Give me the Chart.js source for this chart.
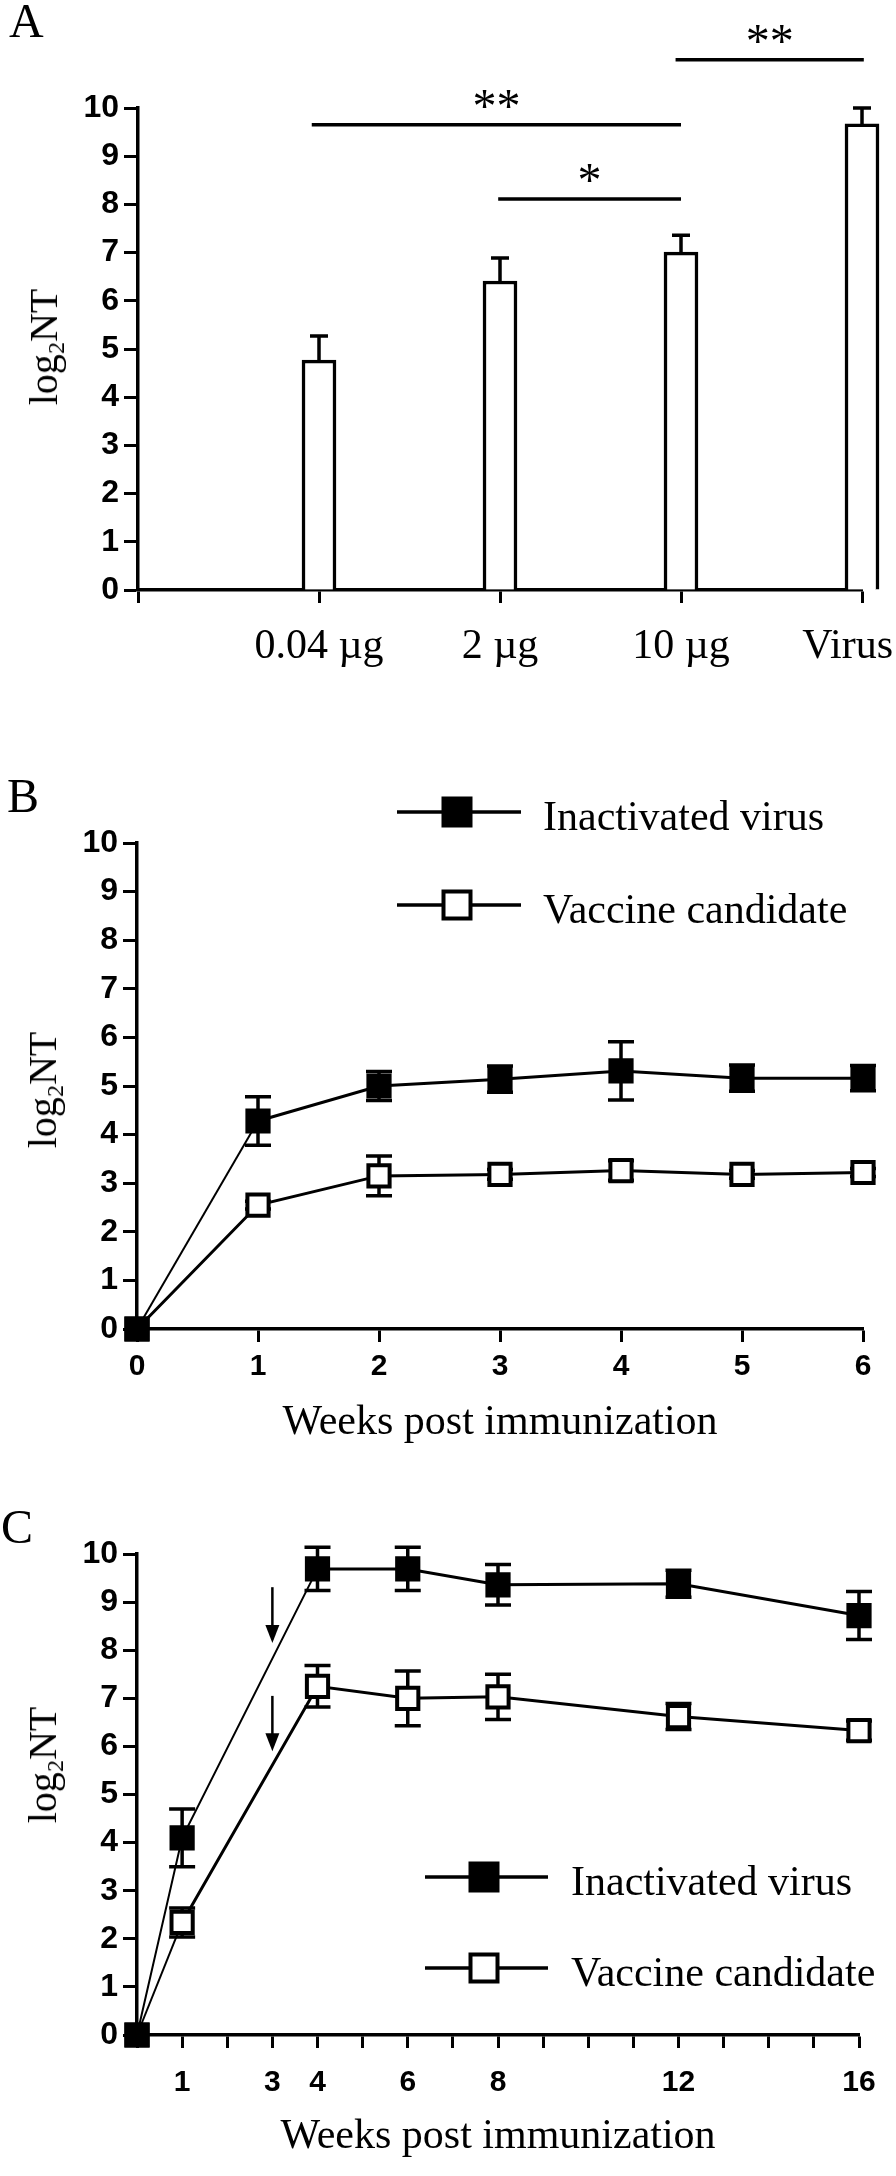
<!DOCTYPE html>
<html>
<head>
<meta charset="utf-8">
<script src="https://cdn.jsdelivr.net/npm/chart.js@4.4.0/dist/chart.umd.min.js"></script>
<style>
  html, body { margin: 0; padding: 0; background: #fff; }
  #page { position: relative; width: 896px; height: 2176px; overflow: hidden; background: #fff; }
  canvas { position: absolute; left: 0; }
  .serif { position: absolute; white-space: nowrap; color: #000;
           font-family: "Liberation Serif", "Times New Roman", serif; }
  .letter { font-size: 48px; line-height: 48px; }
  .ytitle { font-size: 40px; line-height: 40px; transform: translate(-50%, -50%) rotate(-90deg); }
  .ytitle sub { font-size: 60%; vertical-align: -0.3em; line-height: 0; }
</style>
</head>
<body>
<div id="page">
  <canvas id="chartA" width="896" height="700" style="top:0;width:896px;height:700px"></canvas>
  <canvas id="chartB" width="896" height="760" style="top:700px;width:896px;height:760px"></canvas>
  <canvas id="chartC" width="896" height="736" style="top:1440px;width:896px;height:736px"></canvas>

  <div class="serif letter" style="left:9px;top:-3px">A</div>
  <div class="serif letter" style="left:7px;top:772px">B</div>
  <div class="serif letter" style="left:1px;top:1503px">C</div>

  <div class="serif ytitle" style="left:44px;top:347px">log<sub>2</sub>NT</div>
  <div class="serif ytitle" style="left:43px;top:1090px">log<sub>2</sub>NT</div>
  <div class="serif ytitle" style="left:43px;top:1765px">log<sub>2</sub>NT</div>
</div>

<script>
// ---- データ ----
// A: 用量別の中和抗体価
const doseLabels = ['', '0.04 µg', '2 µg', '10 µg', 'Virus'];
const doseNT = [null, 4.77, 6.41, 7.01, 9.67];
const doseErr = [0, 0.5, 0.48, 0.35, 0.33];
// 有意差の線（カテゴリ位置から位置まで、高さ、記号）
const sigFrom = [2.97, 0.96, 1.99];
const sigTo = [4.01, 3.0, 3.0];
const sigLevel = [11.0, 9.65, 8.11];
const sigMark = ['**', '**', '*'];

// B: 1回免疫後の推移
const weeksB = [0, 1, 2, 3, 4, 5, 6];
const inactB = [0, 4.28, 5.0, 5.14, 5.31, 5.16, 5.16];
const inactBErr = [0, 0.5, 0.3, 0.27, 0.6, 0.27, 0.26];
const vaccB = [0, 2.55, 3.15, 3.18, 3.26, 3.18, 3.22];
const vaccBErr = [0, 0.08, 0.41, 0.1, 0.2, 0.08, 0.08];

// C: 追加免疫後の推移
const weeksC = [0, 1, 4, 6, 8, 12, 16];
const weekLabelsC = [1, 3, 4, 6, 8, 12, 16];
const inactC = [0, 4.10, 9.69, 9.69, 9.36, 9.38, 8.72];
const inactCErr = [0, 0.6, 0.45, 0.45, 0.42, 0.28, 0.5];
const vaccC = [0, 2.34, 7.25, 7.0, 7.03, 6.62, 6.33];
const vaccCErr = [0, 0.3, 0.43, 0.57, 0.47, 0.27, 0.2];
// 追加免疫の矢印（週、始点、終点）
const arrowWeek = [3, 3];
const arrowFrom = [9.31, 7.05];
const arrowTo = [8.15, 5.9];

const seriesNames = ['Inactivated virus', 'Vaccine candidate'];

const SANS = '"Liberation Sans", Arial, sans-serif';
const SERIF = '"Liberation Serif", "Times New Roman", serif';

// ---- プラグイン ----
// エラーバー
const errorBars = {
    id: 'errorBars',
    beforeDatasetsDraw(chart, args, opts) {
        if (!opts.upOnly) drawErrors(chart, opts);
    },
    afterDatasetsDraw(chart, args, opts) {
        if (opts.upOnly) drawErrors(chart, opts);
    }
};

function drawErrors(chart, opts) {
    const ctx = chart.ctx;
    const y = chart.scales.y;
    const half = opts.cap / 2;
    ctx.save();
    ctx.strokeStyle = '#000';
    ctx.lineWidth = opts.width;
    chart.data.datasets.forEach((ds, i) => {
        if (!ds.errors) return;
        chart.getDatasetMeta(i).data.forEach((el, j) => {
            const d = ds.data[j];
            const v = (d && typeof d === 'object') ? d.y : d;
            const e = ds.errors[j];
            if (v == null || !e) return;
            const top = y.getPixelForValue(v + e);
            const bot = opts.upOnly ? y.getPixelForValue(v) : y.getPixelForValue(v - e);
            ctx.beginPath();
            ctx.moveTo(el.x, top);
            ctx.lineTo(el.x, bot);
            ctx.moveTo(el.x - half, top);
            ctx.lineTo(el.x + half, top);
            if (!opts.upOnly) {
                ctx.moveTo(el.x - half, bot);
                ctx.lineTo(el.x + half, bot);
            }
            ctx.stroke();
        });
    });
    ctx.restore();
}

// A の x 軸ラベル（右端ははみ出さないように寄せる）
const doseTickLabels = {
    id: 'doseTickLabels',
    afterDraw(chart) {
        const ctx = chart.ctx;
        const x = chart.scales.x;
        ctx.save();
        ctx.font = '42px ' + SERIF;
        ctx.fillStyle = '#000';
        ctx.textAlign = 'center';
        ctx.textBaseline = 'alphabetic';
        doseLabels.forEach((lab, i) => {
            if (!lab) return;
            const w = ctx.measureText(lab).width;
            const px = Math.min(x.getPixelForValue(i), chart.width - 3 - w / 2);
            ctx.fillText(lab, px, x.top + 68);
        });
        ctx.restore();
    }
};

// 有意差の線と記号
const sigLines = {
    id: 'sigLines',
    afterDraw(chart) {
        const ctx = chart.ctx;
        const {x, y} = chart.scales;
        ctx.save();
        ctx.strokeStyle = '#000';
        ctx.fillStyle = '#000';
        ctx.lineWidth = 3.5;
        ctx.font = '48px ' + SERIF;
        ctx.textAlign = 'center';
        ctx.textBaseline = 'alphabetic';
        sigLevel.forEach((lv, i) => {
            const x1 = x.getPixelForValue(sigFrom[i]);
            const x2 = x.getPixelForValue(sigTo[i]);
            const py = y.getPixelForValue(lv);
            ctx.beginPath();
            ctx.moveTo(x1, py);
            ctx.lineTo(x2, py);
            ctx.stroke();
            ctx.fillText(sigMark[i], (x1 + x2) / 2, py - 3);
        });
        ctx.restore();
    }
};

// 凡例（線＋四角マーカー）
const boxLegend = {
    id: 'boxLegend',
    afterDraw(chart, args, opts) {
        const ctx = chart.ctx;
        const s = 27;
        ctx.save();
        chart.data.datasets.forEach((ds, i) => {
            const y = opts.ys[i];
            ctx.strokeStyle = '#000';
            ctx.lineWidth = 3.5;
            ctx.beginPath();
            ctx.moveTo(opts.x1, y);
            ctx.lineTo(opts.x2, y);
            ctx.stroke();
            ctx.fillStyle = ds.pointBackgroundColor;
            ctx.lineWidth = 4;
            ctx.fillRect(opts.mx - s / 2, y - s / 2, s, s);
            ctx.strokeRect(opts.mx - s / 2, y - s / 2, s, s);
            ctx.fillStyle = '#000';
            ctx.font = '42px ' + SERIF;
            ctx.textAlign = 'left';
            ctx.textBaseline = 'alphabetic';
            ctx.fillText(ds.label, opts.tx, y + 18);
        });
        ctx.restore();
    }
};

// 下向き矢印
const boostArrows = {
    id: 'boostArrows',
    afterDatasetsDraw(chart) {
        const ctx = chart.ctx;
        const {x, y} = chart.scales;
        ctx.save();
        ctx.strokeStyle = '#000';
        ctx.fillStyle = '#000';
        ctx.lineWidth = 2.5;
        arrowWeek.forEach((w, i) => {
            const px = x.getPixelForValue(w);
            const y1 = y.getPixelForValue(arrowFrom[i]);
            const y2 = y.getPixelForValue(arrowTo[i]);
            ctx.beginPath();
            ctx.moveTo(px, y1);
            ctx.lineTo(px, y2 - 16);
            ctx.stroke();
            ctx.beginPath();
            ctx.moveTo(px - 7, y2 - 18);
            ctx.lineTo(px + 7, y2 - 18);
            ctx.lineTo(px, y2);
            ctx.closePath();
            ctx.fill();
        });
        ctx.restore();
    }
};

// ---- 共通の軸設定 ----
function yAxis(width) {
    return {
        min: 0,
        max: 10,
        ticks: { stepSize: 1, color: '#000', padding: 5, font: { family: SANS, size: 32, weight: 'bold' } },
        grid: { drawOnChartArea: false, tickLength: 14, tickWidth: 3, tickColor: '#000' },
        border: { color: '#000', width: 3.5 },
        afterFit(s) { s.width = width; }
    };
}

function weekAxis(max, height, pad, titlePad, callback) {
    return {
        type: 'linear',
        min: 0,
        max: max,
        ticks: {
            stepSize: 1, autoSkip: false, maxRotation: 0, color: '#000', padding: pad,
            font: { family: SANS, size: 30, weight: 'bold' },
            callback: callback
        },
        grid: { drawOnChartArea: false, tickLength: 13, tickWidth: 3, tickColor: '#000' },
        border: { color: '#000', width: 3.5 },
        title: {
            display: true, text: 'Weeks post immunization', color: '#000',
            font: { family: SERIF, size: 42 }, padding: { top: 0, bottom: titlePad }
        },
        afterFit(s) { s.height = height; }
    };
}

function seriesSets(xs, inact, inactErr, vacc, vaccErr, thinUntil) {
    const pts = arr => xs.map((w, i) => ({ x: w, y: arr[i] }));
    return [
        {
            label: seriesNames[0], data: pts(inact), errors: inactErr,
            borderColor: '#000', borderWidth: 3,
            segment: { borderWidth: c => (c.p1.parsed.x <= thinUntil ? 2 : 3) },
            pointStyle: 'rect', pointRadius: 15, pointBorderWidth: 4,
            pointBackgroundColor: '#000', pointBorderColor: '#000', clip: false
        },
        {
            label: seriesNames[1], data: pts(vacc), errors: vaccErr,
            borderColor: '#000', borderWidth: 3,
            segment: { borderWidth: c => (c.p1.parsed.x <= thinUntil - 1 ? 2 : 3) },
            pointStyle: 'rect', pointRadius: 15, pointBorderWidth: 4,
            pointBackgroundColor: '#fff', pointBorderColor: '#000', clip: false
        }
    ];
}

const base = {
    responsive: false,
    animation: false,
    devicePixelRatio: 1,
    events: []
};

// ---- A: 棒グラフ ----
new Chart(document.getElementById('chartA'), {
    type: 'bar',
    data: {
        labels: doseLabels,
        datasets: [{
            data: doseNT, errors: doseErr,
            backgroundColor: '#fff', borderColor: '#000', borderWidth: 3.5,
            barThickness: 34, clip: false
        }]
    },
    options: Object.assign({}, base, {
        layout: { padding: { top: 108, right: 34, left: 0, bottom: 0 } },
        plugins: {
            legend: { display: false },
            tooltip: { enabled: false },
            errorBars: { upOnly: true, cap: 18, width: 3.5 }
        },
        scales: {
            x: {
                offset: false,
                ticks: { display: false },
                grid: { offset: false, drawOnChartArea: false, tickLength: 13, tickWidth: 3, tickColor: '#000' },
                border: { color: '#000', width: 3.5 },
                afterFit(s) { s.height = 110; }
            },
            y: yAxis(138)
        }
    }),
    plugins: [errorBars, doseTickLabels, sigLines]
});

// ---- B: 折れ線 ----
new Chart(document.getElementById('chartB'), {
    type: 'line',
    data: { datasets: seriesSets(weeksB, inactB, inactBErr, vaccB, vaccBErr, 1) },
    options: Object.assign({}, base, {
        layout: { padding: { top: 143, right: 33, left: 0, bottom: 0 } },
        plugins: {
            legend: { display: false },
            tooltip: { enabled: false },
            errorBars: { upOnly: false, cap: 26, width: 3.5 },
            boxLegend: { x1: 397, x2: 521, mx: 457, tx: 543, ys: [112, 205] }
        },
        scales: {
            x: weekAxis(6, 131, 7, 12),
            y: yAxis(137)
        }
    }),
    plugins: [errorBars, boxLegend]
});

// ---- C: 折れ線 ----
new Chart(document.getElementById('chartC'), {
    type: 'line',
    data: { datasets: seriesSets(weeksC, inactC, inactCErr, vaccC, vaccCErr, 4) },
    options: Object.assign({}, base, {
        layout: { padding: { top: 114, right: 37, left: 0, bottom: 0 } },
        plugins: {
            legend: { display: false },
            tooltip: { enabled: false },
            errorBars: { upOnly: false, cap: 26, width: 3.5 },
            boxLegend: { x1: 425, x2: 548, mx: 484, tx: 571, ys: [437, 528] }
        },
        scales: {
            x: weekAxis(16, 141, 17, 14, v => (weekLabelsC.includes(v) ? String(v) : '')),
            y: yAxis(137)
        }
    }),
    plugins: [errorBars, boxLegend, boostArrows]
});
</script>
</body>
</html>
